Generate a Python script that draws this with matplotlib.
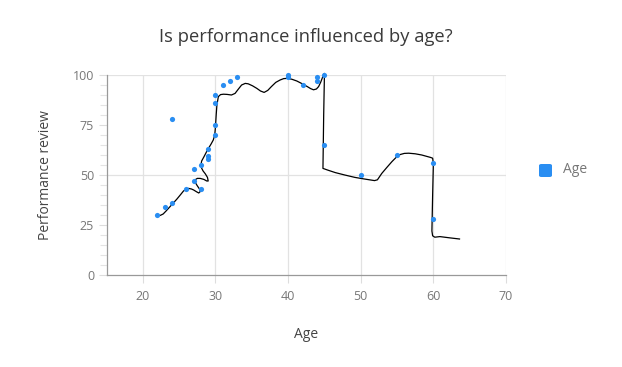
import matplotlib.pyplot as plt
from matplotlib.patches import FancyBboxPatch

plt.rcParams['font.family'] = ['Open Sans', 'DejaVu Sans']

# scatter points (age, performance review)
ages = [22, 23, 24, 24, 26, 27, 27, 28, 28, 29, 29, 29, 30, 30, 30, 30, 31, 32, 33,
        40, 40, 42, 44, 44, 45, 45, 50, 55, 60, 60]
reviews = [30, 34, 36, 78, 43, 47, 53, 43, 55, 58, 59.5, 63, 70, 75, 86, 90, 95, 97, 99,
           100, 99, 95, 99, 97, 100, 65, 50, 60, 56, 28]

# smoothed trend line
curve_x = [21.9, 22.4, 22.8, 23.2, 23.7, 24.2, 24.7, 25.2, 25.6, 26.0, 26.3, 26.7, 27.0,
           27.4, 27.7, 27.9, 27.8, 27.5, 27.2, 27.2, 27.5, 27.9, 28.4, 28.8, 29.0, 28.9,
           28.6, 28.3, 28.1, 28.0, 28.1, 28.4, 28.9, 29.4, 29.7, 29.9, 30.0, 30.1, 30.2,
           30.4, 30.7, 31.1, 31.6, 32.2, 32.7, 33.1, 33.6, 34.1, 34.5, 35.1, 35.7, 36.2,
           36.7, 37.2, 37.7, 38.3, 38.9, 39.4, 39.9, 40.5, 41.2, 41.9, 42.6, 43.1, 43.5,
           43.9, 44.2, 44.5, 44.8, 45.0, 45.0, 44.9, 44.8, 45.5, 46.5, 47.8, 49.2, 50.5,
           51.9, 52.3, 52.9, 53.6, 54.3, 54.9, 55.4, 56.0, 56.6, 57.5, 58.4, 59.1, 59.6,
           59.9, 60.0, 59.9, 59.8, 59.9, 60.2, 60.9, 62.2, 63.6]
curve_y = [29.5, 29.8, 30.5, 32.0, 34.0, 36.0, 38.0, 40.2, 42.0, 43.0, 43.3, 43.0, 42.5,
           41.6, 41.0, 41.7, 43.0, 44.6, 46.4, 47.6, 48.3, 48.3, 47.8, 47.0, 47.0, 48.8,
           50.6, 52.0, 53.4, 55.0, 57.0, 59.0, 62.5, 65.5, 67.5, 70.0, 74.0, 80.0, 85.0,
           89.2, 90.2, 90.4, 90.3, 90.0, 90.8, 92.7, 95.0, 95.8, 95.6, 94.6, 93.3, 92.0,
           91.3, 92.3, 94.2, 96.3, 97.5, 98.2, 98.3, 97.9, 97.0, 95.7, 94.3, 93.2, 92.6,
           93.0, 94.2, 96.5, 99.4, 100.8, 99.5, 80.0, 53.3, 52.4, 51.2, 50.0, 48.8, 48.0,
           47.2, 47.6, 50.8, 53.8, 56.7, 58.9, 60.2, 60.8, 60.9, 60.6, 60.0, 59.3, 58.8,
           58.4, 55.8, 40.0, 22.0, 19.6, 18.9, 19.2, 18.6, 18.0]

x_ticks = [20, 30, 40, 50, 60, 70]
y_ticks = [0, 25, 50, 75, 100]
y_grid = [50, 100]

blue = '#2a8ef2'

fig = plt.figure(figsize=(6.22, 3.67), dpi=100)
ax = fig.add_axes([106.5 / 622, 1 - 275 / 367, (506 - 106.5) / 622, 200 / 367])

for gx in x_ticks:
    ax.axvline(gx, color='#e2e2e2', lw=0.9, zorder=0)
for gy in y_grid:
    ax.axhline(gy, color='#e2e2e2', lw=0.9, zorder=0)

ax.plot(curve_x, curve_y, color='black', lw=0.9, zorder=2, clip_on=False,
        solid_joinstyle='round')
ax.scatter(ages, reviews, s=14, color=blue, zorder=3, linewidths=0, clip_on=False)

ax.set_xlim(15, 70)
ax.set_ylim(0, 100)
ax.set_xticks(x_ticks)
ax.set_yticks(y_ticks)
ax.set_yticks(range(0, 101, 5), minor=True)

for side in ['top', 'right']:
    ax.spines[side].set_visible(False)
for side in ['left', 'bottom']:
    ax.spines[side].set_color('#999999')
    ax.spines[side].set_linewidth(0.9)

ax.tick_params(axis='both', which='major', colors='#dddddd', labelcolor='#777777',
               labelsize=9, length=6, width=0.8)
ax.tick_params(axis='x', pad=5)
ax.tick_params(axis='y', pad=3)
ax.tick_params(axis='y', which='minor', colors='#e4e4e4', length=5, width=0.8)

ax.set_xlabel('Age', fontsize=10, color='#444444', labelpad=17)
ax.set_ylabel('Performance review', fontsize=10, color='#444444', labelpad=14)

fig.text(306 / 622, 1 - 37 / 367, 'Is performance influenced by age?',
         ha='center', va='center', fontsize=13.2, color='#3a3a3a')

# legend
sq = FancyBboxPatch((539 / 622, 1 - 177 / 367), 13 / 622, 13 / 367,
                    boxstyle='round,pad=0,rounding_size=0.004',
                    transform=fig.transFigure, color=blue, lw=0)
fig.patches.append(sq)
fig.text(563 / 622, 1 - 170 / 367, 'Age', ha='left', va='center',
         fontsize=10, color='#777777')

fig.savefig('out.png', dpi=100)
